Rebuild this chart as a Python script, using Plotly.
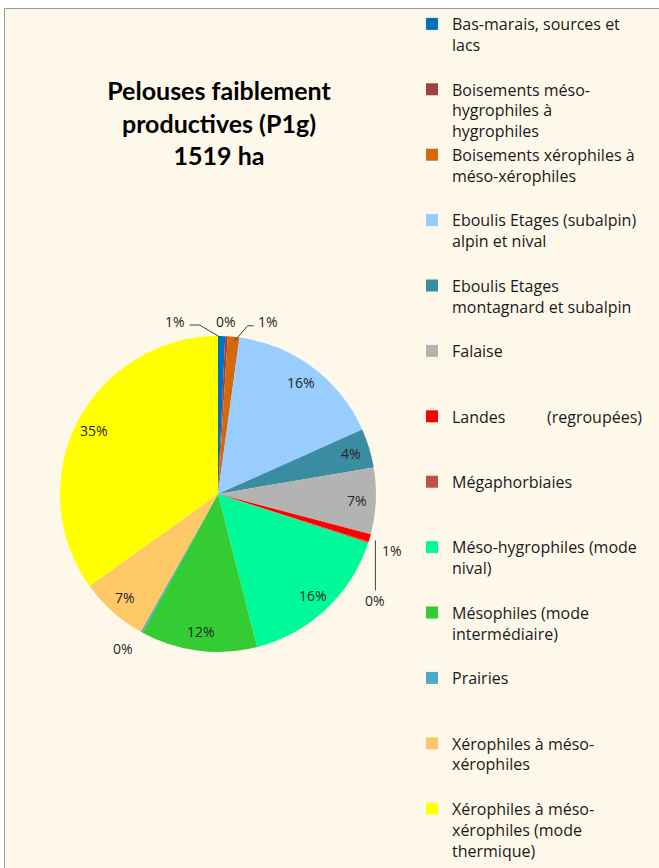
import math
import plotly.graph_objects as go

# ---------------- data ----------------
categories = [
    "Bas-marais, sources et<br>lacs",
    "Boisements méso-<br>hygrophiles à<br>hygrophiles",
    "Boisements xérophiles à<br>méso-xérophiles",
    "Eboulis Etages (subalpin)<br>alpin et nival",
    "Eboulis Etages<br>montagnard et subalpin",
    "Falaise",
    "Landes\u00a0\u00a0\u00a0\u00a0\u00a0\u00a0\u00a0\u00a0\u00a0 (regroupées)",
    "Mégaphorbiaies",
    "Méso-hygrophiles (mode<br>nival)",
    "Mésophiles (mode<br>intermédiaire)",
    "Prairies",
    "Xérophiles à méso-<br>xérophiles",
    "Xérophiles à méso-<br>xérophiles (mode<br>thermique)",
]
surfaces_ha = [11, 4, 18, 245, 61, 103, 12, 2, 243, 181, 3, 106, 530]
colors = ["#0070C0", "#A0413F", "#D4690C", "#99CCFF", "#3A8CA0", "#B3B3B3",
          "#FF0000", "#C0504D", "#00FA9A", "#33CC33", "#4BACC6", "#FFC866", "#FFFF00"]
title_lines = ["Pelouses faiblement", "productives (P1g)", "1519 ha"]

# ---------------- layout geometry ----------------
W, H = 659, 868
CX, CY, R = 218, 494, 158
BG = "#FEF8EA"
FONT = "Lato"
LFONT = "Open Sans"


def px(x):
    return x / W


def py(y):
    return 1 - y / H


# pad each legend entry to 3 lines so entries are evenly spaced
legend_labels = []
for c in categories:
    n = c.count("<br>") + 1
    legend_labels.append(c + "<br>\u00a0" * (3 - n))

total = sum(surfaces_ha)
fig = go.Figure()
fig.add_trace(go.Pie(
    labels=legend_labels,
    values=surfaces_ha,
    sort=False,
    direction="clockwise",
    rotation=0,
    textinfo="none",
    hoverinfo="label+percent",
    marker=dict(colors=colors, line=dict(width=0)),
    domain=dict(x=[px(CX - R), px(CX + R)], y=[py(CY + R), py(CY - R)]),
))

# ---------------- percentage labels ----------------
# offsets (pixels) relative to slice outer edge point, for tiny slices
special = {
    0: dict(label=(-47, -15), leader=[(0, 2), (-22, -11), (-32, -11)]),
    1: dict(label=(0, -15), leader=None),
    2: dict(label=(34, -15), leader=[(1, 4), (14, -11), (20, -11)]),
    6: dict(label=(22, 12), leader=None),
    7: dict(label=(7, 58), leader=[(7, -2), (7, 48)]),
    10: dict(label=(-19, 16), leader=None),
}

annotations = []
shapes = []
cum = 0
for i, v in enumerate(surfaces_ha):
    frac = v / total
    mid = (cum + frac / 2) * 2 * math.pi
    cum += frac
    pct = f"{round(frac * 100):d}%"
    ex = CX + R * math.sin(mid)
    ey = CY - R * math.cos(mid)
    if i in special:
        sp = special[i]
        lx, ly = ex + sp["label"][0], ey + sp["label"][1]
        if sp["leader"]:
            pts = [(ex + dx, ey + dy) for dx, dy in sp["leader"]]
            path = "M " + " L ".join(f"{px(a):.5f},{py(b):.5f}" for a, b in pts)
            shapes.append(dict(type="path", xref="paper", yref="paper", path=path,
                               line=dict(color="#404040", width=1)))
    else:
        d = 0.88 * R
        lx = CX + d * math.sin(mid)
        ly = CY - d * math.cos(mid)
    annotations.append(dict(x=px(lx), y=py(ly), xref="paper", yref="paper",
                            text=pct, showarrow=False, xanchor="center", yanchor="middle",
                            font=dict(family=LFONT, size=14, color="#262626")))

# background panel with border
shapes.insert(0, dict(type="rect", xref="paper", yref="paper", layer="below",
                      x0=px(4.5), x1=px(W + 10), y0=py(H + 10), y1=py(8.5),
                      fillcolor=BG, line=dict(color="#9A9A9A", width=1)))

fig.update_layout(
    width=W, height=H,
    margin=dict(l=0, r=0, t=0, b=0),
    paper_bgcolor="white",
    title=dict(text="<br>".join(title_lines), x=px(CX + 1), xanchor="center",
               y=py(100), yanchor="middle",
               font=dict(family=FONT, size=25, color="black", weight="bold")),
    showlegend=True,
    legend=dict(x=px(412), xanchor="left", y=py(22), yanchor="top",
                valign="top", bgcolor="rgba(0,0,0,0)",
                font=dict(family=LFONT, size=16, color="#1a1a1a"),
                traceorder="normal"),
    annotations=annotations,
    shapes=shapes,
)

fig.write_html("out.html",
               config={"displayModeBar": False},
               post_script="document.body.style.margin='0px';document.body.style.overflow='hidden';")
